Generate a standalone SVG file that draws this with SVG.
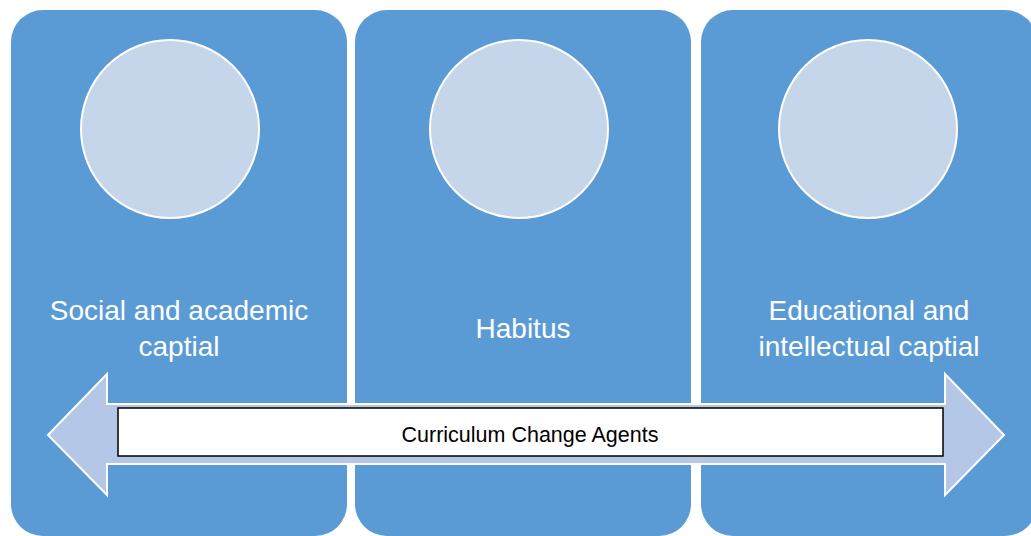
<svg xmlns="http://www.w3.org/2000/svg" width="1031" height="536" viewBox="0 0 1031 536">
<style>
.panel{fill:#5B9BD5}
.circ{fill:#C5D5EA;stroke:#FFFFFF;stroke-width:2}
.big{font-family:"Liberation Sans",Arial,sans-serif;font-size:28px;fill:#FFFFFF;text-anchor:middle}
.small{font-family:"Liberation Sans",Arial,sans-serif;font-size:21.5px;fill:#000000;text-anchor:middle}
</style>
<rect width="1031" height="536" fill="#FFFFFF"/>
<g id="panel1">
<rect class="panel" x="11" y="10" width="336" height="526" rx="32"/>
<circle class="circ" cx="170" cy="129" r="89"/>
<text class="big" x="179" y="320">Social and academic</text>
<text class="big" x="179" y="356">captial</text>
</g>
<g id="panel2">
<rect class="panel" x="355" y="10" width="336" height="526" rx="32"/>
<circle class="circ" cx="519" cy="129" r="89"/>
<text class="big" x="523" y="338">Habitus</text>
</g>
<g id="panel3">
<rect class="panel" x="701" y="10" width="336" height="526" rx="32"/>
<circle class="circ" cx="868" cy="129" r="89"/>
<text class="big" x="869" y="320">Educational and</text>
<text class="big" x="869" y="356">intellectual captial</text>
</g>
<g id="connectors">
<path d="M48,435 L107,374 L107,404 L945,404 L945,374 L1004,435 L945,495 L945,464 L107,464 L107,495 Z" fill="#B4C7E7" stroke="#FFFFFF" stroke-width="2"/>
</g>
<g id="label">
<rect x="118" y="408" width="825" height="48" fill="#FFFFFF" stroke="#000000" stroke-width="1.5"/>
<text class="small" x="530" y="442">Curriculum Change Agents</text>
</g>
</svg>
